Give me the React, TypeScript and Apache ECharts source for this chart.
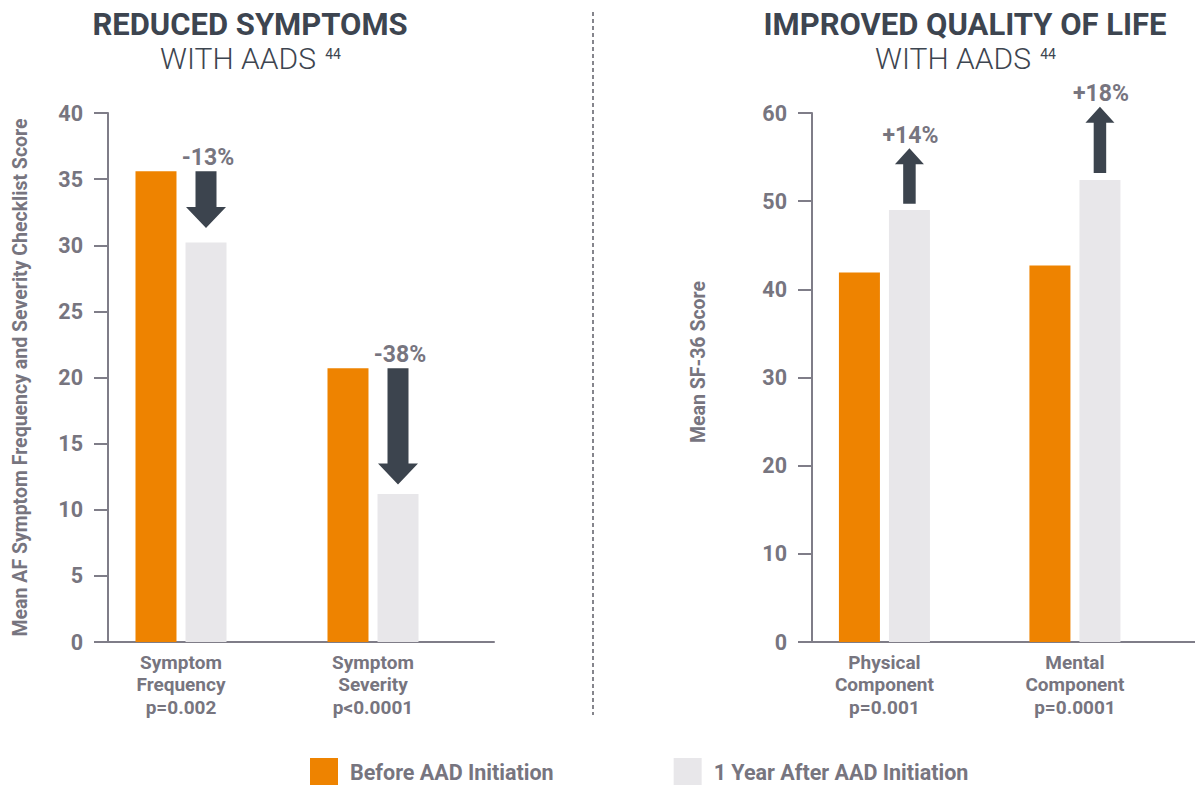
import React, { useEffect, useRef } from "react";
import * as echarts from "echarts";

// ---- data ----
const leftCategories = ["Symptom\nFrequency\np=0.002", "Symptom\nSeverity\np<0.0001"];
const rightCategories = ["Physical\nComponent\np=0.001", "Mental\nComponent\np=0.0001"];
const seriesNames = ["Before AAD Initiation", "1 Year After AAD Initiation"];

const leftBefore = [35.6, 20.7];
const leftAfter = [30.2, 11.2];
const rightBefore = [41.9, 42.7];
const rightAfter = [49.0, 52.4];

const leftArrowFrom = [35.6, 20.7];
const leftArrowTo = [31.3, 11.9];
const rightArrowFrom = [49.7, 53.2];
const rightArrowTo = [56.0, 60.7];
const leftChange = ["-13%", "-38%"];
const rightChange = ["+14%", "+18%"];

const leftAxisName = "Mean AF Symptom Frequency and Severity Checklist Score";
const rightAxisName = "Mean SF-36 Score";
const leftTitle = "REDUCED SYMPTOMS";
const rightTitle = "IMPROVED QUALITY OF LIFE";
const subTitle = "WITH AADS";
const refNote = "44";

// ---- styles ----
const ORANGE = "#EE8300";
const LIGHT = "#E8E7EA";
const ARROW = "#3C444E";
const DARK = "#3D4550";
const GREY = "#77757F";
const AXIS = "#7F7D88";
const FONT = "Roboto, 'Liberation Sans', sans-serif";

const X_MIN = -73 / 192;
const X_MAX = 313 / 192;

function arrowSeries(
  xi: number,
  from: number[],
  to: number[],
  labels: string[],
  dims: { shaft: number; head: number; headLen: number; offset: number; labelGap: number; labelDx: number }
) {
  return {
    type: "custom",
    xAxisIndex: xi,
    yAxisIndex: xi,
    silent: true,
    clip: false,
    z: 5,
    encode: { x: 0, y: [1, 2] },
    data: from.map((f, i) => [i, f, to[i]]),
    renderItem: (params: any, api: any) => {
      const i = params.dataIndex;
      const x = api.value(0);
      const a = api.coord([x, api.value(1)]);
      const b = api.coord([x, api.value(2)]);
      const cx = a[0] + dims.offset;
      const dir = b[1] > a[1] ? 1 : -1;
      const hb = b[1] - dir * dims.headLen;
      const sw = dims.shaft / 2;
      const hw = dims.head / 2;
      const pts = [
        [cx - sw, a[1]],
        [cx + sw, a[1]],
        [cx + sw, hb],
        [cx + hw, hb],
        [cx, b[1]],
        [cx - hw, hb],
        [cx - sw, hb],
      ];
      const top = Math.min(a[1], b[1]);
      return {
        type: "group",
        children: [
          { type: "polygon", shape: { points: pts }, style: { fill: ARROW } },
          {
            type: "text",
            x: cx + dims.labelDx,
            y: top - dims.labelGap,
            style: {
              text: labels[i],
              fill: GREY,
              font: `bold 23px ${FONT}`,
              align: "center",
              verticalAlign: "middle",
            },
          },
        ],
      };
    },
  };
}

function xAxisFor(gi: number, cats: string[]) {
  return {
    type: "value",
    gridIndex: gi,
    min: X_MIN,
    max: X_MAX,
    splitLine: { show: false },
    axisTick: { show: false },
    axisLine: { show: true, onZero: false, lineStyle: { color: AXIS, width: 2 } },
    axisLabel: {
      customValues: [0, 1],
      formatter: (v: number) => cats[Math.round(v)] ?? "",
      color: GREY,
      fontFamily: FONT,
      fontWeight: "bold",
      fontSize: 19,
      lineHeight: 22.5,
      margin: 9,
      align: "center",
    },
  };
}

function yAxisFor(gi: number, max: number, interval: number, name: string, gap: number, pad: number[]) {
  return {
    type: "value",
    gridIndex: gi,
    min: 0,
    max,
    interval,
    name,
    nameLocation: "middle",
    nameGap: gap,
    nameTextStyle: {
      color: GREY,
      fontFamily: FONT,
      fontWeight: "bold",
      fontSize: 19.5,
      padding: pad,
    },
    splitLine: { show: false },
    axisLine: { show: true, onZero: false, lineStyle: { color: AXIS, width: 2 } },
    axisTick: { show: true, length: 14, lineStyle: { color: AXIS, width: 2 } },
    axisLabel: {
      color: GREY,
      fontFamily: FONT,
      fontWeight: "bold",
      fontSize: 21.5,
      margin: 25,
    },
  };
}

function barSeries(name: string, gi: number, values: number[], color: string) {
  return {
    type: "bar",
    name,
    xAxisIndex: gi,
    yAxisIndex: gi,
    barWidth: 41,
    barGap: "22%",
    itemStyle: { color },
    data: values.map((v, i) => [i, v]),
  };
}

export default function App() {
  const ref = useRef<HTMLDivElement>(null);
  useEffect(() => {
    document.body.style.margin = "0";
    if (!ref.current) return;
    const chart = echarts.init(ref.current, null, { renderer: "svg" });
    const option: any = {
      animation: false,
      backgroundColor: "#ffffff",
      grid: [
        { left: 108, top: 113, width: 386, height: 529 },
        { left: 812, top: 113, width: 386, height: 529 },
      ],
      xAxis: [xAxisFor(0, leftCategories), xAxisFor(1, rightCategories)],
      yAxis: [
        yAxisFor(0, 40, 5, leftAxisName, 78, [0, 0, 0, 0]),
        yAxisFor(1, 60, 10, rightAxisName, 104, [0, 0, 0, 31]),
      ],
      legend: {
        data: seriesNames,
        left: 310,
        top: 758,
        padding: 0,
        itemWidth: 28,
        itemHeight: 28,
        itemGap: 120,
        icon: "rect",
        textStyle: {
          color: GREY,
          fontFamily: FONT,
          fontWeight: "bold",
          fontSize: 21.5,
          padding: [0, 0, 0, 7],
        },
      },
      graphic: [
        {
          type: "text",
          x: 250,
          y: 24,
          style: { text: leftTitle, fill: DARK, font: `bold 31px ${FONT}`, align: "center", verticalAlign: "middle" },
        },
        {
          type: "text",
          x: 965,
          y: 24,
          style: { text: rightTitle, fill: DARK, font: `bold 31px ${FONT}`, align: "center", verticalAlign: "middle" },
        },
        {
          type: "text",
          x: 238,
          y: 58,
          style: { text: subTitle, fill: DARK, font: `300 30px ${FONT}`, align: "center", verticalAlign: "middle" },
        },
        {
          type: "text",
          x: 333,
          y: 54,
          style: { text: refNote, fill: DARK, font: `400 14px ${FONT}`, align: "center", verticalAlign: "middle" },
        },
        {
          type: "text",
          x: 953,
          y: 58,
          style: { text: subTitle, fill: DARK, font: `300 30px ${FONT}`, align: "center", verticalAlign: "middle" },
        },
        {
          type: "text",
          x: 1048,
          y: 54,
          style: { text: refNote, fill: DARK, font: `400 14px ${FONT}`, align: "center", verticalAlign: "middle" },
        },
        {
          type: "line",
          shape: { x1: 593, y1: 12, x2: 593, y2: 715 },
          style: { stroke: "#85858C", lineWidth: 2, lineDash: [4, 3] },
        },
      ],
      series: [
        barSeries(seriesNames[0], 0, leftBefore, ORANGE),
        barSeries(seriesNames[1], 0, leftAfter, LIGHT),
        barSeries(seriesNames[0], 1, rightBefore, ORANGE),
        barSeries(seriesNames[1], 1, rightAfter, LIGHT),
        arrowSeries(0, leftArrowFrom, leftArrowTo, leftChange, {
          shaft: 21,
          head: 40,
          headLen: 21,
          offset: 25,
          labelGap: 14,
          labelDx: 2,
        }),
        arrowSeries(1, rightArrowFrom, rightArrowTo, rightChange, {
          shaft: 12.5,
          head: 29,
          headLen: 16,
          offset: 25,
          labelGap: 13,
          labelDx: 1,
        }),
      ],
    };
    chart.setOption(option);
    return () => chart.dispose();
  }, []);
  return <div ref={ref} style={{ width: 1195, height: 785 }} />;
}
